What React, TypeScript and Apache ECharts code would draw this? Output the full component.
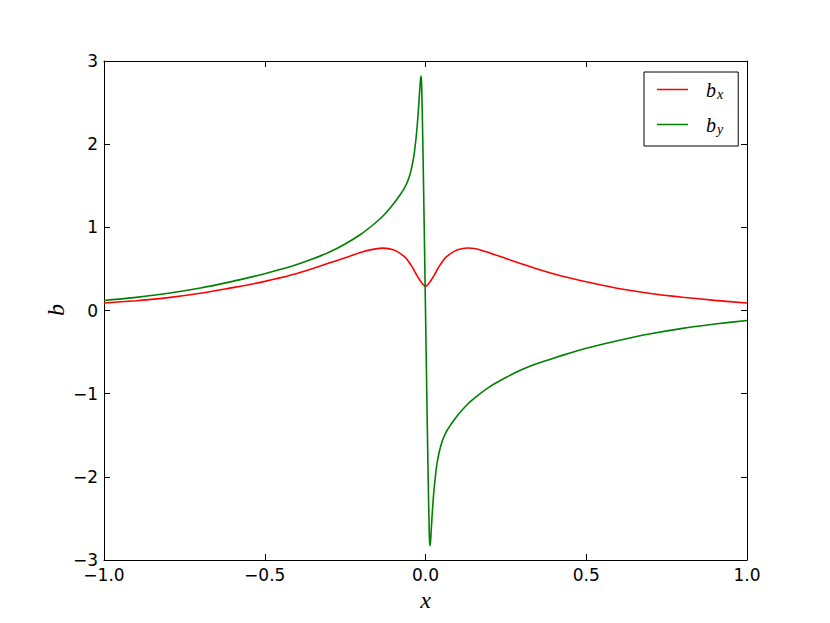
import React, { useEffect, useRef } from 'react';
import * as echarts from 'echarts';

// sample positions along x
const xValues = [
  -1.0, -0.9, -0.8, -0.7, -0.6, -0.55, -0.5, -0.45, -0.4, -0.35, -0.3, -0.25, -0.2,
  -0.16, -0.13, -0.1, -0.08, -0.07, -0.065, -0.06, -0.055, -0.05, -0.045, -0.04, -0.035,
  -0.03, -0.025, -0.02, -0.016, -0.014, -0.012, -0.008, -0.004,
  0,
  0.004, 0.008, 0.012, 0.014, 0.016, 0.02, 0.025, 0.03, 0.035, 0.04, 0.045, 0.05, 0.055,
  0.06, 0.065, 0.07, 0.08, 0.1, 0.13, 0.16, 0.2, 0.25, 0.3, 0.35, 0.4, 0.45, 0.5, 0.55,
  0.6, 0.7, 0.8, 0.9, 1.0,
];

// b_x (red)
const bxValues = [
  0.09, 0.118, 0.155, 0.207, 0.275, 0.31, 0.35, 0.395, 0.445, 0.505, 0.57, 0.635, 0.7,
  0.738, 0.75, 0.73, 0.69, 0.66, 0.645, 0.625, 0.6, 0.575, 0.545, 0.515, 0.48,
  0.445, 0.41, 0.38, 0.355, 0.345, 0.335, 0.315, 0.3,
  0.29,
  0.3, 0.315, 0.335, 0.345, 0.355, 0.38, 0.41, 0.445, 0.48, 0.515, 0.545, 0.575, 0.6,
  0.625, 0.645, 0.66, 0.69, 0.73, 0.752, 0.74, 0.692, 0.625, 0.56, 0.497, 0.44, 0.39, 0.345, 0.303,
  0.265, 0.205, 0.16, 0.122, 0.09,
];

// b_y (green)
const byValues = [
  0.12, 0.158, 0.207, 0.27, 0.35, 0.395, 0.443, 0.495, 0.553, 0.622, 0.7, 0.8, 0.92,
  1.04, 1.145, 1.28, 1.385, 1.445, 1.478, 1.515, 1.56, 1.615, 1.685, 1.775, 1.89,
  2.05, 2.26, 2.53, 2.76, 2.82, 2.72, 1.95, 1.0,
  0,
  -1.0, -1.95, -2.72, -2.83, -2.76, -2.5, -2.22, -2.02, -1.86, -1.75, -1.665, -1.595, -1.54,
  -1.495, -1.457, -1.425, -1.365, -1.26, -1.13, -1.03, -0.915, -0.805, -0.71, -0.635, -0.57, -0.51, -0.455, -0.405,
  -0.36, -0.28, -0.215, -0.163, -0.12,
];

const xTickLabels = ['\u22121.0', '\u22120.5', '0.0', '0.5', '1.0'];
const yTickLabels = ['\u22123', '\u22122', '\u22121', '0', '1', '2', '3'];

const X_MIN = -1;
const X_MAX = 1;
const X_INT = 0.5;
const Y_MIN = -3;
const Y_MAX = 3;
const Y_INT = 1;

const TICK_FONT = 'DejaVu Sans';
const MATH_FONT = 'Liberation Serif';

export default function App() {
  const ref = useRef<HTMLDivElement>(null);

  useEffect(() => {
    if (!ref.current) return;
    const chart = echarts.init(ref.current, undefined, { renderer: 'svg' });

    const axisLine = { show: true, onZero: false, lineStyle: { color: '#000', width: 1 } };
    const axisTick = { show: true, inside: true, length: 6, lineStyle: { color: '#000', width: 1 } };

    const option: any = {
      animation: false,
      backgroundColor: '#fff',
      grid: { left: 104, top: 61, right: 83, bottom: 63, containLabel: false },
      legend: {
        orient: 'vertical',
        left: 644,
        top: 72,
        padding: [6, 15, 10, 13],
        itemGap: 12,
        itemWidth: 31,
        itemHeight: 1.5,
        icon: 'rect',
        borderColor: '#000',
        borderWidth: 1,
        backgroundColor: '#fff',
        data: ['bx', 'by'],
        formatter: (name: string) =>
          name === 'bx' ? '{m|b}{s|x}' : '{m|b}{s|y}',
        textStyle: {
          color: '#000',
          rich: {
            m: {
              fontFamily: MATH_FONT,
              fontStyle: 'italic',
              fontSize: 20,
              lineHeight: 22,
              color: '#000',
              padding: [0, 0, 0, 13],
            },
            s: {
              fontFamily: MATH_FONT,
              fontStyle: 'italic',
              fontSize: 14,
              lineHeight: 13,
              color: '#000',
              padding: [9, 0, 0, 1],
            },
          },
        },
      },
      graphic: [
        {
          type: 'text',
          x: 56,
          y: 310,
          rotation: Math.PI / 2,
          style: {
            text: 'b',
            fontFamily: MATH_FONT,
            fontStyle: 'italic',
            fontSize: 24,
            fill: '#000',
            align: 'center',
            verticalAlign: 'middle',
          },
        },
      ],
      xAxis: [
        {
          type: 'value',
          min: X_MIN,
          max: X_MAX,
          interval: X_INT,
          position: 'bottom',
          axisLine,
          axisTick,
          splitLine: { show: false },
          axisLabel: {
            margin: 6,
            color: '#000',
            fontFamily: TICK_FONT,
            fontSize: 17,
            formatter: (v: number) => xTickLabels[Math.round((v - X_MIN) / X_INT)] ?? '',
          },
          name: 'x',
          nameLocation: 'middle',
          nameGap: 26,
          nameTextStyle: {
            fontFamily: MATH_FONT,
            fontStyle: 'italic',
            fontSize: 24,
            color: '#000',
          },
        },
        {
          type: 'value',
          min: X_MIN,
          max: X_MAX,
          interval: X_INT,
          position: 'top',
          axisLine,
          axisTick,
          splitLine: { show: false },
          axisLabel: { show: false },
        },
      ],
      yAxis: [
        {
          type: 'value',
          min: Y_MIN,
          max: Y_MAX,
          interval: Y_INT,
          position: 'left',
          axisLine,
          axisTick,
          splitLine: { show: false },
          axisLabel: {
            margin: 6,
            color: '#000',
            fontFamily: TICK_FONT,
            fontSize: 17,
            formatter: (v: number) => yTickLabels[Math.round((v - Y_MIN) / Y_INT)] ?? '',
          },
        },
        {
          type: 'value',
          min: Y_MIN,
          max: Y_MAX,
          interval: Y_INT,
          position: 'right',
          axisLine,
          axisTick,
          splitLine: { show: false },
          axisLabel: { show: false },
        },
      ],
      series: [
        {
          name: 'bx',
          type: 'line',
          xAxisIndex: 0,
          yAxisIndex: 0,
          data: xValues.map((x, i) => [x, bxValues[i]]),
          symbol: 'none',
          smooth: 0.25,
          lineStyle: { color: '#ff0000', width: 1.6 },
          itemStyle: { color: '#ff0000' },
          z: 3,
        },
        {
          name: 'by',
          type: 'line',
          xAxisIndex: 0,
          yAxisIndex: 0,
          data: xValues.map((x, i) => [x, byValues[i]]),
          symbol: 'none',
          smooth: 0.25,
          lineStyle: { color: '#008000', width: 1.6 },
          itemStyle: { color: '#008000' },
          z: 4,
        },
      ],
    };

    chart.setOption(option);
    return () => chart.dispose();
  }, []);

  return (
    <div
      ref={ref}
      style={{ position: 'fixed', left: 0, top: 0, width: 830, height: 623, background: '#fff' }}
    />
  );
}
